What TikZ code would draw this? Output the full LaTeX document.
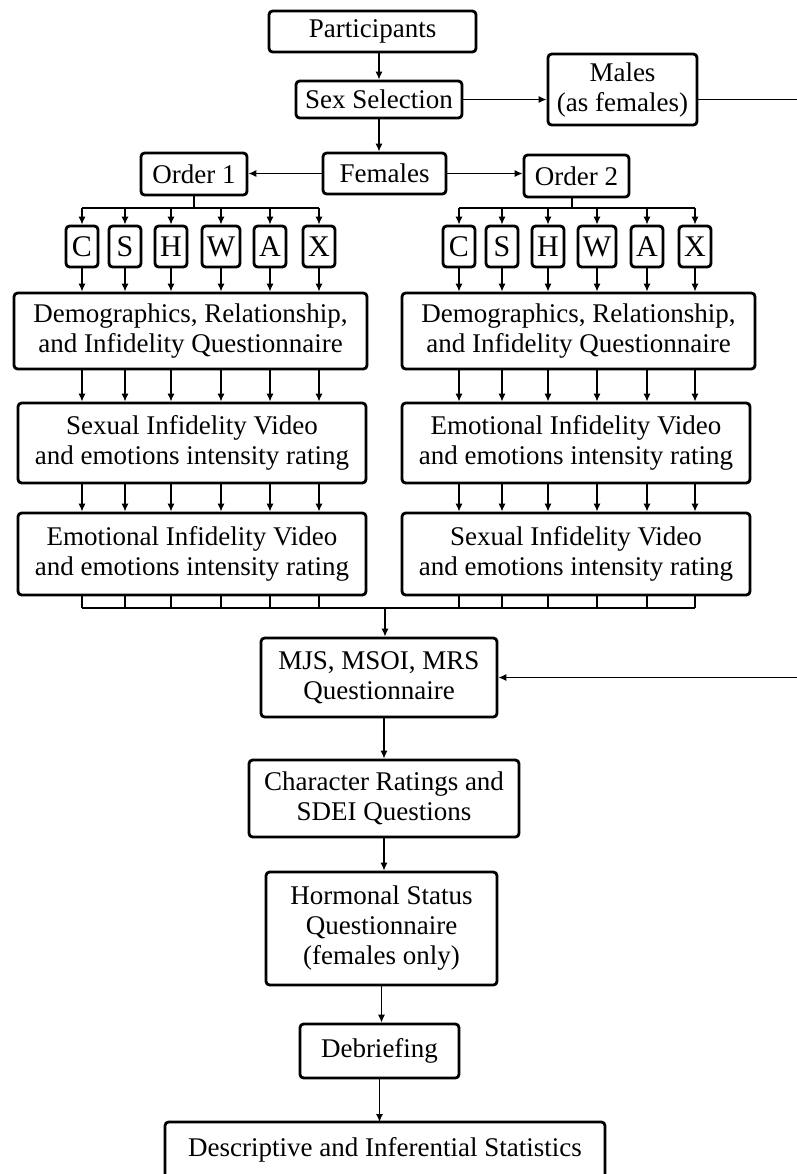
\documentclass[tikz,border=0pt]{standalone}
\usepackage{fontspec}
\setmainfont{Liberation Serif}
\usetikzlibrary{arrows.meta}
\begin{document}
\begin{tikzpicture}[x=0.5pt,y=-0.5pt,
  box/.style={draw,line width=1.4pt,rounded corners=1.8pt,inner sep=0pt,align=center,
    font=\fontsize{13.5}{15}\selectfont},
  conn/.style={line width=0.75pt},
  arr/.style={conn,-{Latex[length=4pt,width=3.6pt]}},
  lbox/.style={box,minimum height=20.5pt,font=\fontsize{15}{16}\selectfont}]
\useasboundingbox (0,0) rectangle (797,1174);
\clip (0,0) rectangle (797,1174);
% top boxes
\node[box,minimum width=103.5pt,minimum height=20.5pt] (part) at (372.5,31.5) {Participants};
\node[box,minimum width=83pt,minimum height=18.5pt] (sex) at (379,99.5) {Sex Selection};
\node[box,minimum width=74.5pt,minimum height=35.5pt] (males) at (622.5,89.5) {Males\\(as females)};
\node[box,minimum width=61.5pt,minimum height=20.5pt] (fem) at (384.5,173.5) {Females};
\node[box,minimum width=53pt,minimum height=21pt] (o1) at (194,174) {Order 1};
\node[box,minimum width=52.5pt,minimum height=21pt] (o2) at (576.5,176) {Order 2};
% letter boxes
\foreach \x/\t/\w [count=\i] in {82/C/16,125/S/16,171/H/16,221/W/19,270/A/16,319/X/16}
  \node[lbox,minimum width=\w pt] (l\i) at (\x,246.5) {\t};
\foreach \x/\t/\w [count=\i] in {459/C/16,502/S/16,548/H/16,597/W/19,647/A/16,695/X/16}
  \node[lbox,minimum width=\w pt] (r\i) at (\x,246.5) {\t};
% big boxes
\node[box,minimum width=176.5pt,minimum height=38pt] (demoL) at (190.5,331) {Demographics, Relationship,\\and Infidelity Questionnaire};
\node[box,minimum width=176.5pt,minimum height=38pt] (demoR) at (578.5,331) {Demographics, Relationship,\\and Infidelity Questionnaire};
\node[box,minimum width=174pt,minimum height=40pt] (vidL1) at (192,443) {Sexual Infidelity Video\\and emotions intensity rating};
\node[box,minimum width=174pt,minimum height=40pt] (vidR1) at (576,443) {Emotional Infidelity Video\\and emotions intensity rating};
\node[box,minimum width=174pt,minimum height=41pt] (vidL2) at (192,554) {Emotional Infidelity Video\\and emotions intensity rating};
\node[box,minimum width=174pt,minimum height=41pt] (vidR2) at (576,554) {Sexual Infidelity Video\\and emotions intensity rating};
\node[box,minimum width=118pt,minimum height=39.5pt] (mjs) at (379,677.5) {MJS, MSOI, MRS\\Questionnaire};
\node[box,minimum width=135pt,minimum height=38.5pt] (char) at (384,798.5) {Character Ratings and\\SDEI Questions};
\node[box,minimum width=115.5pt,minimum height=56.5pt] (horm) at (381.5,928.5) {Hormonal Status\\Questionnaire\\(females only)};
\node[box,minimum width=79.5pt,minimum height=27pt] (deb) at (379.5,1051) {Debriefing};
\draw[line width=1.4pt,rounded corners=1.8pt] (165,1210) -- (165,1122) -- (605,1122) -- (605,1210);
\coordinate (statstop) at (385,1122);
\node[font=\fontsize{13.5}{15}\selectfont,inner sep=0pt] (stats) at (385,1150) {Descriptive and Inferential Statistics};
% connectors top
\draw[arr] (sex.north |- part.south) -- (sex.north);
\draw[arr] (sex.east) -- (sex.east -| males.west);
\coordinate (mright) at (797,99.5);
\draw[conn] (sex.east -| males.east) -- (mright);
\draw[arr] (sex.south) -- (sex.south |- fem.north);
\draw[arr] (fem.west) -- (fem.west -| o1.east);
\draw[arr] (fem.east) -- (fem.east -| o2.west);
% order bars
\draw[conn] (o1.south) -- (o1.south |- 0,208);
\draw[conn] (l1.north |- 0,208) -- (l6.north |- 0,208);
\draw[conn] (572,0 |- o2.south) -- (572,208);
\draw[conn] (r1.north |- 0,208) -- (r6.north |- 0,208);
\foreach \i in {1,...,6}{
  \draw[arr] (l\i.north |- 0,208) -- (l\i.north);
  \draw[arr] (r\i.north |- 0,208) -- (r\i.north);
  \draw[arr] (l\i.south) -- (l\i.south |- demoL.north);
  \draw[arr] (r\i.south) -- (r\i.south |- demoR.north);
  \draw[arr] (l\i.south |- demoL.south) -- (l\i.south |- vidL1.north);
  \draw[arr] (r\i.south |- demoR.south) -- (r\i.south |- vidR1.north);
  \draw[arr] (l\i.south |- vidL1.south) -- (l\i.south |- vidL2.north);
  \draw[arr] (r\i.south |- vidR1.south) -- (r\i.south |- vidR2.north);
  \draw[conn] (l\i.south |- vidL2.south) -- (l\i.south |- 0,608);
  \draw[conn] (r\i.south |- vidR2.south) -- (r\i.south |- 0,608);
}
\draw[conn] (l1.south |- 0,608) -- (r6.south |- 0,608);
\coordinate (merge) at (385,608);
\draw[arr] (merge) -- (merge |- mjs.north);
\coordinate (mjsright) at (797,677.5);
\draw[arr] (mjsright) -- (mjs.east);
\draw[arr] (char.north |- mjs.south) -- (char.north);
\draw[arr] (char.south) -- (char.south |- horm.north);
\draw[arr] (horm.south) -- (horm.south |- deb.north);
\draw[arr] (deb.south) -- (deb.south |- statstop);
\end{tikzpicture}
\end{document}
